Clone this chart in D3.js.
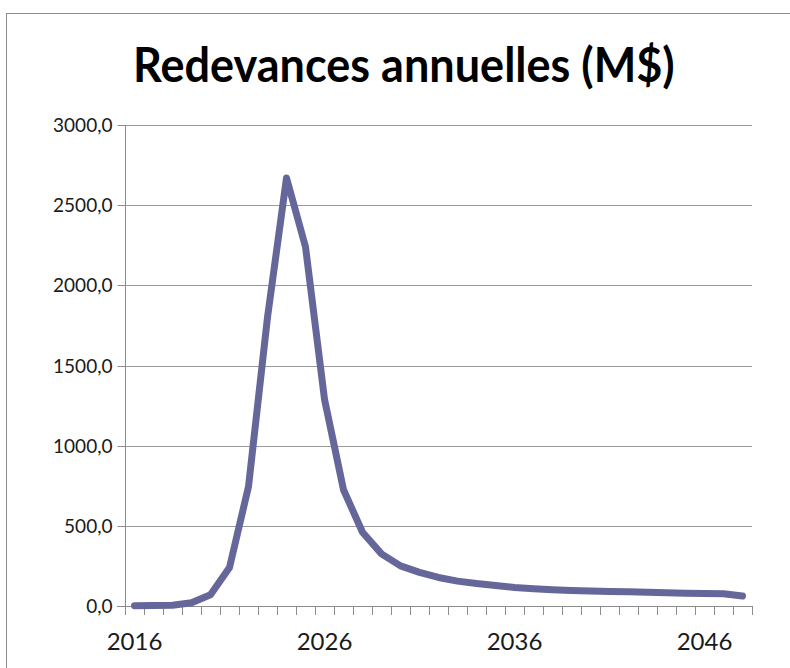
<!DOCTYPE html>
<html>
<head>
<meta charset="utf-8">
<script src="https://cdn.jsdelivr.net/npm/d3@7"></script>
<style>
  body { margin: 0; background: #fff; }
  svg { display: block; }
</style>
</head>
<body>
<div id="container"></div>
<script>
	// annees et redevances (M$)
	var years = [2016, 2017, 2018, 2019, 2020, 2021, 2022, 2023, 2024, 2025,
		2026, 2027, 2028, 2029, 2030, 2031, 2032, 2033, 2034, 2035,
		2036, 2037, 2038, 2039, 2040, 2041, 2042, 2043, 2044, 2045,
		2046, 2047, 2048];
	var royalties = [2, 3, 5, 20, 70, 240, 745, 1800, 2670, 2240,
		1290, 725, 460, 325, 250, 210, 178, 155, 140, 128,
		115, 108, 102, 97, 93, 90, 89, 86, 82, 80,
		78, 77, 62];
	var yTicks = [0, 500, 1000, 1500, 2000, 2500, 3000];
	var xLabels = [2016, 2026, 2036, 2046];
	var title = "Redevances annuelles (M$)";

	var width = 790, height = 668;
	var plotLeft = 125, plotRight = 752, plotTop = 125, plotBottom = 606;

	var svg = d3.select('#container')
		.append('svg')
		.attr('width', width)
		.attr('height', height);

	// cadre du graphique
	svg.append('rect')
		.attr('x', 6.5).attr('y', 13.5)
		.attr('width', 900).attr('height', 900)
		.style('fill', 'none')
		.style('stroke', '#8c8c8c');

	var x = d3.scaleBand()
		.domain(years)
		.range([plotLeft, plotRight])
		.padding(0);

	var y = d3.scaleLinear()
		.domain([0, 3000])
		.range([plotBottom, plotTop]);

	// lignes de quadrillage
	svg.append('g')
		.selectAll('line')
		.data(yTicks.slice(1))
		.enter().append('line')
		.attr('x1', plotLeft).attr('x2', plotRight)
		.attr('y1', function(d){ return Math.round(y(d)) + 0.5; })
		.attr('y2', function(d){ return Math.round(y(d)) + 0.5; })
		.style('stroke', '#9a9a9a')
		.style('stroke-width', 1);

	// axe vertical
	var yAxis = d3.axisLeft(y)
		.tickValues(yTicks)
		.tickSize(8)
		.tickPadding(5)
		.tickFormat(function(d){ return d3.format('.1f')(d).replace('.', ','); });

	var gy = svg.append('g')
		.attr('transform', 'translate(' + (plotLeft + 0.5) + ',0)')
		.call(yAxis);
	gy.select('.domain').remove();
	gy.selectAll('.tick line').style('stroke', '#8c8c8c');
	gy.selectAll('text')
		.style('font-family', "'Liberation Sans Narrow', Lato")
		.style('font-size', '19px')
		.style('fill', '#1a1a1a');
	gy.selectAll('.tick').attr('transform', function(d){
		return 'translate(0,' + (Math.round(y(d)) + 0.5) + ')';
	});

	svg.append('line')
		.attr('x1', plotLeft + 0.5).attr('x2', plotLeft + 0.5)
		.attr('y1', plotTop).attr('y2', plotBottom + 8)
		.style('stroke', '#8c8c8c');

	// axe horizontal
	svg.append('line')
		.attr('x1', plotLeft - 8).attr('x2', plotRight)
		.attr('y1', Math.round(plotBottom) + 0.5).attr('y2', Math.round(plotBottom) + 0.5)
		.style('stroke', '#8c8c8c');

	var edges = years.map(function(d){ return x(d); }).concat([plotRight]);
	svg.append('g')
		.selectAll('line')
		.data(edges)
		.enter().append('line')
		.attr('x1', function(d){ return Math.round(d) + 0.5; })
		.attr('x2', function(d){ return Math.round(d) + 0.5; })
		.attr('y1', plotBottom).attr('y2', plotBottom + 9)
		.style('stroke', '#8c8c8c');

	var xAxis = d3.axisBottom(x)
		.tickValues(xLabels)
		.tickSize(0)
		.tickPadding(27)
		.tickFormat(function(d){ return d; });

	var gx = svg.append('g')
		.attr('transform', 'translate(0,' + plotBottom + ')')
		.call(xAxis);
	gx.select('.domain').remove();
	gx.selectAll('text')
		.style('font-family', 'Lato')
		.style('font-size', '24px')
		.style('fill', '#1a1a1a');

	// courbe
	var line = d3.line()
		.x(function(d, i){ return x(years[i]) + x.bandwidth() / 2; })
		.y(function(d){ return y(d); });

	svg.append('path')
		.datum(royalties)
		.attr('d', line)
		.style('fill', 'none')
		.style('stroke', '#65679b')
		.style('stroke-width', 7)
		.style('stroke-linejoin', 'round')
		.style('stroke-linecap', 'round');

	// titre
	var t = svg.append('text')
		.text(title)
		.attr('x', 0).attr('y', 0)
		.style('font-family', 'Lato')
		.style('font-weight', 'bold')
		.style('font-size', '47px')
		.style('fill', '#000');
	var w = t.node().getComputedTextLength();
	var sx = 542 / w;
	t.attr('transform', 'translate(' + (404 - 271) + ',82) scale(' + sx + ',1)');
</script>
</body>
</html>
